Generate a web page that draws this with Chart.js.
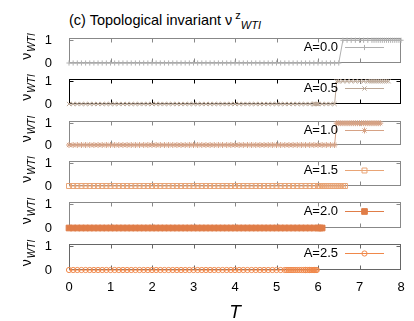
<!DOCTYPE html>
<html>
<head>
<meta charset="utf-8">
<script src="https://cdn.jsdelivr.net/npm/chart.js@4/dist/chart.umd.min.js"></script>
<style>
  body { margin: 0; background: #fff; width: 414px; height: 321px; overflow: hidden; position: relative;
         font-family: "Liberation Sans", Arial, sans-serif; }
  canvas { position: absolute; left: 0; }
  #title { position: absolute; left: 69px; top: 12px; font-size: 14.5px; line-height: 16px; white-space: nowrap; }
  #title .sup { position: relative; top: -6px; font-size: 11px; margin-left: 3px; }
  #title .sub { position: relative; top: 4px; font-size: 11px; font-style: italic; }
</style>
</head>
<body>
<div id="title">(c) Topological invariant ν<span class="sup">z</span><span class="sub">WTI</span></div>
<script>
const labels = ['A=0.0', 'A=0.5', 'A=1.0', 'A=1.5', 'A=2.0', 'A=2.5'];
const xTicks = [0, 1, 2, 3, 4, 5, 6, 7, 8];
const yTicks = [0, 1];

// temperatures; zero* = points at nu=0, one* = points at nu=1
const tBase = [0, 0.1, 0.2, 0.3, 0.4, 0.5, 0.6, 0.7, 0.8, 0.9, 1, 1.1, 1.2, 1.3, 1.4, 1.5, 1.6, 1.7, 1.8, 1.9,
  2, 2.1, 2.2, 2.3, 2.4, 2.5, 2.6, 2.7, 2.8, 2.9, 3, 3.1, 3.2, 3.3, 3.4, 3.5, 3.6, 3.7, 3.8, 3.9,
  4, 4.1, 4.2, 4.3, 4.4, 4.5, 4.6, 4.7, 4.8, 4.9, 5, 5.1, 5.2, 5.3, 5.4, 5.5, 5.6, 5.7, 5.8, 5.9];
const zeroA00 = [...tBase, 6.0, 6.1, 6.2, 6.3, 6.4, 6.5];
const oneA00 = [6.6, 6.7, 6.8, 6.9, 7.0, 7.1, 7.2, 7.3, 7.35, 7.4, 7.45, 7.5, 7.55, 7.6, 7.65, 7.7, 7.75, 7.8, 7.85, 7.9, 7.95, 8.0];
const zeroA05 = [...tBase, 5.92, 5.95, 5.98, 6.0, 6.1, 6.2, 6.3, 6.4];
const oneA05 = [6.45, 6.5, 6.6, 6.7, 6.8, 6.9, 7.0, 7.1, 7.2, 7.25, 7.3, 7.35, 7.4, 7.45, 7.5, 7.55, 7.6, 7.65, 7.7];
const zeroA10 = [...tBase, 6.0, 6.1, 6.2, 6.3, 6.4];
const oneA10 = [6.45, 6.5, 6.55, 6.6, 6.65, 6.7, 6.75, 6.8, 6.85, 6.9, 6.95, 7.0, 7.05, 7.1, 7.15, 7.2, 7.25, 7.3, 7.35, 7.4, 7.45, 7.5];
const zeroA15 = [...tBase, 6.0, 6.05, 6.1, 6.15, 6.2, 6.25, 6.3, 6.35, 6.4, 6.45, 6.5, 6.55, 6.6, 6.65];
const oneA15 = [];
const zeroA20 = [...tBase, 6.0, 6.05, 6.1];
const oneA20 = [];
const zeroA25 = [...tBase, 5.25, 5.35, 5.45, 5.55, 5.65, 5.7, 5.75, 5.8, 5.85, 5.88, 5.92, 5.95, 5.97];
const oneA25 = [];

const zeros = [zeroA00, zeroA05, zeroA10, zeroA15, zeroA20, zeroA25];
const ones = [oneA00, oneA05, oneA10, oneA15, oneA20, oneA25];

// look
const colors = ['#b0b0b0', '#bca897', '#d6a285', '#e9a475', '#e07d48', '#f0884a'];
const styles = ['cross', 'crossRot', 'star', 'rect', 'rect', 'circle'];
const radii = [2.6, 3, 3, 3.5, 4, 2.6];
const filled = [false, false, false, false, true, false];
const frameColors = ['#888', '#000', '#888', '#888', '#888', '#666'];
const tops = [38, 79, 121, 161, 202, 244];
const bottoms = [63, 104, 145, 186, 228, 270];

Chart.defaults.font.family = '"Liberation Sans", Arial, sans-serif';
Chart.defaults.color = '#000';

function pts(z, o) {
  return z.map(t => ({x: t, y: 0})).concat(o.map(t => ({x: t, y: 1}))).sort((a, b) => a.x - b.x);
}

function noPad(s) {
  s.paddingTop = 0; s.paddingBottom = 0; s.paddingLeft = 0; s.paddingRight = 0;
}

const frame = {
  id: 'frame',
  beforeDatasetsDraw(chart, args, opts) {
    const {ctx, chartArea: a, scales: {x, y}} = chart;
    ctx.save();
    ctx.strokeStyle = opts.color;
    ctx.lineWidth = 1;
    const l = Math.round(a.left) + 0.5, r = Math.round(a.right) - 0.5;
    const t = Math.round(a.top) + 0.5, b = Math.round(a.bottom) - 0.5;
    ctx.strokeRect(l, t, r - l, b - t);
    ctx.beginPath();
    xTicks.slice(1, -1).forEach(v => {
      const px = Math.round(x.getPixelForValue(v)) + 0.5;
      ctx.moveTo(px, t); ctx.lineTo(px, t + 4);
      ctx.moveTo(px, b); ctx.lineTo(px, b - 4);
    });
    const py = Math.round(y.getPixelForValue(1)) + 0.5;
    ctx.moveTo(l, py); ctx.lineTo(l + 4, py);
    ctx.moveTo(r, py); ctx.lineTo(r - 4, py);
    ctx.stroke();
    ctx.restore();
  }
};

const extras = {
  id: 'extras',
  afterDraw(chart) {
    const {ctx, chartArea: a} = chart;
    const ds = chart.data.datasets[0];
    // legend
    const ly = a.top + 9;
    ctx.save();
    ctx.font = '13px "Liberation Sans", Arial, sans-serif';
    ctx.fillStyle = '#000';
    ctx.textAlign = 'right';
    ctx.textBaseline = 'middle';
    ctx.fillText(ds.label, 338, ly);
    ctx.strokeStyle = ds.borderColor;
    ctx.lineWidth = 1;
    ctx.beginPath();
    ctx.moveTo(345, ly + 0.5); ctx.lineTo(384, ly + 0.5);
    ctx.stroke();
    ctx.fillStyle = ds.pointBackgroundColor;
    ctx.strokeStyle = ds.pointBorderColor;
    Chart.helpers.drawPoint(ctx, {pointStyle: ds.pointStyle, radius: ds.pointRadius, borderWidth: 1, rotation: 0}, 364.5, ly + 0.5);
    // y title nu_WTI
    ctx.translate(27, (a.top + a.bottom) / 2 - 4);
    ctx.rotate(-Math.PI / 2);
    ctx.textAlign = 'left';
    ctx.textBaseline = 'alphabetic';
    ctx.fillStyle = '#000';
    ctx.font = '14px "Liberation Sans", Arial, sans-serif';
    const w1 = ctx.measureText('ν').width;
    ctx.font = 'italic 10px "Liberation Sans", Arial, sans-serif';
    const w2 = ctx.measureText('WTI').width;
    const x0 = -(w1 + w2 + 1) / 2;
    ctx.font = '14px "Liberation Sans", Arial, sans-serif';
    ctx.fillText('ν', x0, 4);
    ctx.font = 'italic 10px "Liberation Sans", Arial, sans-serif';
    ctx.fillText('WTI', x0 + w1 + 1, 8);
    ctx.restore();
  }
};

labels.forEach((lab, i) => {
  const last = i === labels.length - 1;
  const cTop = tops[i] - 10;
  const h = bottoms[i] - tops[i];
  const cH = last ? 321 - cTop : h + 20;
  const cv = document.createElement('canvas');
  cv.width = 414; cv.height = cH;
  cv.style.top = cTop + 'px';
  cv.style.width = '414px'; cv.style.height = cH + 'px';
  document.body.appendChild(cv);

  new Chart(cv.getContext('2d'), {
    type: 'line',
    data: {
      datasets: [{
        label: lab,
        data: pts(zeros[i], ones[i]),
        borderColor: colors[i],
        borderWidth: 1,
        pointStyle: styles[i],
        pointRadius: radii[i],
        pointBorderWidth: 1,
        pointBorderColor: colors[i],
        pointBackgroundColor: filled[i] ? colors[i] : 'rgba(255,255,255,0)',
        tension: 0,
        clip: false
      }]
    },
    options: {
      responsive: false,
      animation: false,
      devicePixelRatio: 1,
      layout: {padding: {left: 0, right: 13, top: 10, bottom: last ? 0 : 10}},
      plugins: {legend: {display: false}, tooltip: {enabled: false}, frame: {color: frameColors[i]}},
      scales: {
        x: {
          type: 'linear', min: 0, max: 8, display: last,
          grid: {display: false}, border: {display: false},
          afterBuildTicks: s => { s.ticks = xTicks.map(v => ({value: v})); },
          ticks: {padding: 2, font: {size: 13}, color: '#000', maxRotation: 0},
          title: {display: true, text: 'T', color: '#000', font: {size: 19, style: 'italic', lineHeight: 0.9}, padding: {top: 0, bottom: 0}},
          afterFit: s => { s.height = last ? 321 - bottoms[i] : 0; noPad(s); }
        },
        y: {
          type: 'linear', min: 0, max: 1.1,
          grid: {display: false}, border: {display: false},
          afterBuildTicks: s => { s.ticks = yTicks.map(v => ({value: v})); },
          ticks: {padding: 9, font: {size: 13}, color: '#000'},
          afterFit: s => { s.width = 69; noPad(s); }
        }
      }
    },
    plugins: [frame, extras]
  });
});
</script>
</body>
</html>
